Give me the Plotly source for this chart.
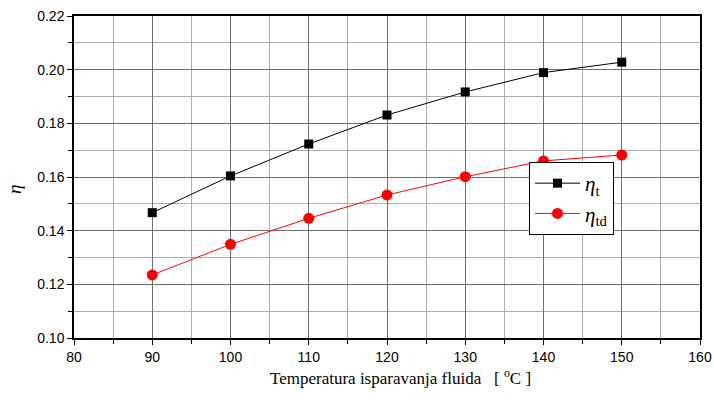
import plotly.graph_objects as go

temps = [90, 100, 110, 120, 130, 140, 150]
eta_t = [0.1467, 0.1604, 0.1723, 0.1831, 0.1917, 0.1989, 0.2028]
eta_td = [0.1235, 0.1349, 0.1446, 0.1533, 0.1601, 0.1660, 0.1682]

L, R, T, B = 74, 14, 16, 64
W, H = 714, 402

fig = go.Figure()
fig.add_trace(go.Scatter(
    x=temps, y=eta_t, mode="lines+markers", name="<i>η</i><sub>t</sub>",
    line=dict(color="black", width=1),
    marker=dict(symbol="square", size=9, color="black"),
))
fig.add_trace(go.Scatter(
    x=temps, y=eta_td, mode="lines+markers", name="<i>η</i><sub>td</sub>",
    line=dict(color="#ff0000", width=1),
    marker=dict(symbol="circle", size=11, color="#ff0000"),
))

axis_common = dict(
    showline=True, linecolor="black", linewidth=1.5, mirror=True,
    ticks="outside", ticklen=5, tickwidth=1, tickcolor="black",
    showgrid=True, gridcolor="#6f6f6f", gridwidth=1,
    zeroline=False, automargin=False,
    tickfont=dict(family="Liberation Sans, Arial", size=14, color="black"),
)

fig.update_xaxes(
    range=[80, 160], dtick=10, tick0=80,
    minor=dict(dtick=5, ticks="outside", ticklen=4, tickcolor="black",
               showgrid=True, gridcolor="#adadad", gridwidth=1),
    **axis_common,
)
fig.update_yaxes(
    range=[0.10, 0.22], dtick=0.02, tick0=0.10, tickformat=".2f",
    minor=dict(dtick=0.01, ticks="outside", ticklen=4, tickcolor="black",
               showgrid=True, gridcolor="#adadad", gridwidth=1),
    **axis_common,
)

fig.update_layout(
    width=W, height=H,
    margin=dict(l=L, r=R, t=T, b=B),
    plot_bgcolor="white", paper_bgcolor="white",
    showlegend=True,
    legend=dict(
        x=(529 - L) / (W - L - R), y=(H - B - 162) / (H - T - B),
        xanchor="left", yanchor="top",
        bgcolor="white", bordercolor="black", borderwidth=1,
        font=dict(family="Liberation Serif, Times New Roman", size=21, color="black"),
        itemwidth=45, tracegroupgap=2,
    ),
    annotations=[
        dict(text="Temperatura isparavanja fluida   [ <sup>o</sup>C ]",
             xref="paper", yref="paper", x=(400 - L) / (W - L - R), y=-(386 - (H - B)) / (H - T - B),
             xanchor="center", yanchor="bottom", yshift=-4, showarrow=False,
             font=dict(family="Liberation Serif, Times New Roman", size=17, color="black")),
        dict(text="<i>η</i>", xref="paper", yref="paper",
             x=-(L - 14) / (W - L - R), y=(H - B - 190) / (H - T - B),
             xanchor="center", yanchor="middle", textangle=-90, showarrow=False,
             font=dict(family="Liberation Serif, Times New Roman", size=19, color="black")),
    ],
)

fig.write_html("out.html")
